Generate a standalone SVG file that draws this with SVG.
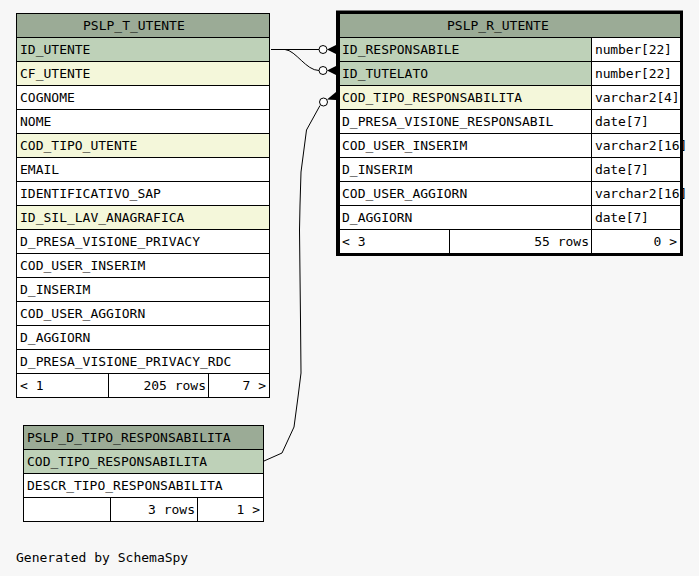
<svg xmlns="http://www.w3.org/2000/svg" width="699" height="576" viewBox="0 0 699 576">
<style>
text{font-family:"DejaVu Sans Mono","Liberation Mono",monospace;font-size:13px;fill:#000}
.c{stroke:#000;stroke-width:1}
.h{fill:#9bab96}
.pk{fill:#bed1b8}
.ix{fill:#f4f7da}
.w{fill:#fff}
.e{text-anchor:end}
.t{letter-spacing:-0.15px}
.ln{fill:none;stroke:#000;stroke-width:1}
.dot{fill:#fff;stroke:#000;stroke-width:1}
</style>
<rect width="699" height="576" fill="#f7f7f7"/>

<g id="PSLP_T_UTENTE">
<rect class="c h" x="16.5" y="13.5" width="253" height="24"/>
<text x="83" y="30">PSLP_T_UTENTE</text>
<rect class="c pk" x="16.5" y="37.5" width="253" height="24"/><text x="20" y="54">ID_UTENTE</text>
<rect class="c ix" x="16.5" y="61.5" width="253" height="24"/><text x="20" y="78">CF_UTENTE</text>
<rect class="c w" x="16.5" y="85.5" width="253" height="24"/><text x="20" y="102">COGNOME</text>
<rect class="c w" x="16.5" y="109.5" width="253" height="24"/><text x="20" y="126">NOME</text>
<rect class="c ix" x="16.5" y="133.5" width="253" height="24"/><text x="20" y="150">COD_TIPO_UTENTE</text>
<rect class="c w" x="16.5" y="157.5" width="253" height="24"/><text x="20" y="174">EMAIL</text>
<rect class="c w" x="16.5" y="181.5" width="253" height="24"/><text x="20" y="198">IDENTIFICATIVO_SAP</text>
<rect class="c ix" x="16.5" y="205.5" width="253" height="24"/><text x="20" y="222">ID_SIL_LAV_ANAGRAFICA</text>
<rect class="c w" x="16.5" y="229.5" width="253" height="24"/><text x="20" y="246">D_PRESA_VISIONE_PRIVACY</text>
<rect class="c w" x="16.5" y="253.5" width="253" height="24"/><text x="20" y="270">COD_USER_INSERIM</text>
<rect class="c w" x="16.5" y="277.5" width="253" height="24"/><text x="20" y="294">D_INSERIM</text>
<rect class="c w" x="16.5" y="301.5" width="253" height="24"/><text x="20" y="318">COD_USER_AGGIORN</text>
<rect class="c w" x="16.5" y="325.5" width="253" height="24"/><text x="20" y="342">D_AGGIORN</text>
<rect class="c w" x="16.5" y="349.5" width="253" height="24"/><text x="20" y="366">D_PRESA_VISIONE_PRIVACY_RDC</text>
<rect class="c w" x="16.5" y="373.5" width="253" height="24"/>
<line class="c" x1="108.5" y1="373.5" x2="108.5" y2="397.5"/>
<line class="c" x1="208.5" y1="373.5" x2="208.5" y2="397.5"/>
<text x="20" y="390">&lt; 1</text>
<text class="e" x="206" y="390">205 rows</text>
<text class="e" x="266" y="390">7 &gt;</text>
</g>

<g id="PSLP_R_UTENTE">
<rect class="c h" x="339.5" y="13.5" width="341" height="24"/>
<text x="447" y="30">PSLP_R_UTENTE</text>
<rect class="c pk" x="339.5" y="37.5" width="252" height="24"/><rect class="c w" x="591.5" y="37.5" width="89" height="24"/>
<text x="342" y="54">ID_RESPONSABILE</text><text class="t" x="595" y="54">number[22]</text>
<rect class="c pk" x="339.5" y="61.5" width="252" height="24"/><rect class="c w" x="591.5" y="61.5" width="89" height="24"/>
<text x="342" y="78">ID_TUTELATO</text><text class="t" x="595" y="78">number[22]</text>
<rect class="c ix" x="339.5" y="85.5" width="252" height="24"/><rect class="c w" x="591.5" y="85.5" width="89" height="24"/>
<text x="342" y="102">COD_TIPO_RESPONSABILITA</text><text class="t" x="595" y="102">varchar2[4]</text>
<rect class="c w" x="339.5" y="109.5" width="252" height="24"/><rect class="c w" x="591.5" y="109.5" width="89" height="24"/>
<text x="342" y="126">D_PRESA_VISIONE_RESPONSABIL</text><text class="t" x="595" y="126">date[7]</text>
<rect class="c w" x="339.5" y="133.5" width="252" height="24"/><rect class="c w" x="591.5" y="133.5" width="89" height="24"/>
<text x="342" y="150">COD_USER_INSERIM</text><text class="t" x="595" y="150">varchar2[16]</text>
<rect class="c w" x="339.5" y="157.5" width="252" height="24"/><rect class="c w" x="591.5" y="157.5" width="89" height="24"/>
<text x="342" y="174">D_INSERIM</text><text class="t" x="595" y="174">date[7]</text>
<rect class="c w" x="339.5" y="181.5" width="252" height="24"/><rect class="c w" x="591.5" y="181.5" width="89" height="24"/>
<text x="342" y="198">COD_USER_AGGIORN</text><text class="t" x="595" y="198">varchar2[16]</text>
<rect class="c w" x="339.5" y="205.5" width="252" height="24"/><rect class="c w" x="591.5" y="205.5" width="89" height="24"/>
<text x="342" y="222">D_AGGIORN</text><text class="t" x="595" y="222">date[7]</text>
<rect class="c w" x="339.5" y="229.5" width="341" height="24"/>
<line class="c" x1="449.5" y1="229.5" x2="449.5" y2="253.5"/>
<line class="c" x1="591.5" y1="229.5" x2="591.5" y2="253.5"/>
<text x="342" y="246">&lt; 3</text>
<text class="e" x="589" y="246">55 rows</text>
<text class="e" x="677" y="246">0 &gt;</text>
<rect x="337.5" y="12" width="344" height="242.5" fill="none" stroke="#000" stroke-width="3"/>
</g>

<g id="PSLP_D_TIPO_RESPONSABILITA">
<rect class="c h" x="23.5" y="425.5" width="240" height="24"/>
<text x="27" y="442">PSLP_D_TIPO_RESPONSABILITA</text>
<rect class="c pk" x="23.5" y="449.5" width="240" height="24"/><text x="27" y="466">COD_TIPO_RESPONSABILITA</text>
<rect class="c w" x="23.5" y="473.5" width="240" height="24"/><text x="27" y="490">DESCR_TIPO_RESPONSABILITA</text>
<rect class="c w" x="23.5" y="497.5" width="240" height="24"/>
<line class="c" x1="110.5" y1="497.5" x2="110.5" y2="521.5"/>
<line class="c" x1="197.5" y1="497.5" x2="197.5" y2="521.5"/>
<text class="e" x="195" y="514">3 rows</text>
<text class="e" x="260" y="514">1 &gt;</text>
</g>

<g id="connectors">
<path class="ln" d="M271,49.5 L319,49.5"/>
<circle class="dot" cx="323" cy="49.5" r="4"/>
<polygon points="327,49.5 336,45 336,54"/>
<path class="ln" d="M271,49.5 L285,49.5 C296,50.5 306,70.5 319,70.5"/>
<circle class="dot" cx="323" cy="70.5" r="4"/>
<polygon points="327,70.5 336,66 336,75"/>
<path class="ln" d="M264,461 L282,453 L294,427 L298,397 L301,373 L300.5,320 L299.5,230 L300,205 L301,172 L306.5,130 L320,105.5"/>
<circle class="dot" cx="323.5" cy="102" r="4"/>
<polygon points="327,99.5 336,92 336,100"/>
</g>

<text x="16" y="562">Generated by SchemaSpy</text>
</svg>
